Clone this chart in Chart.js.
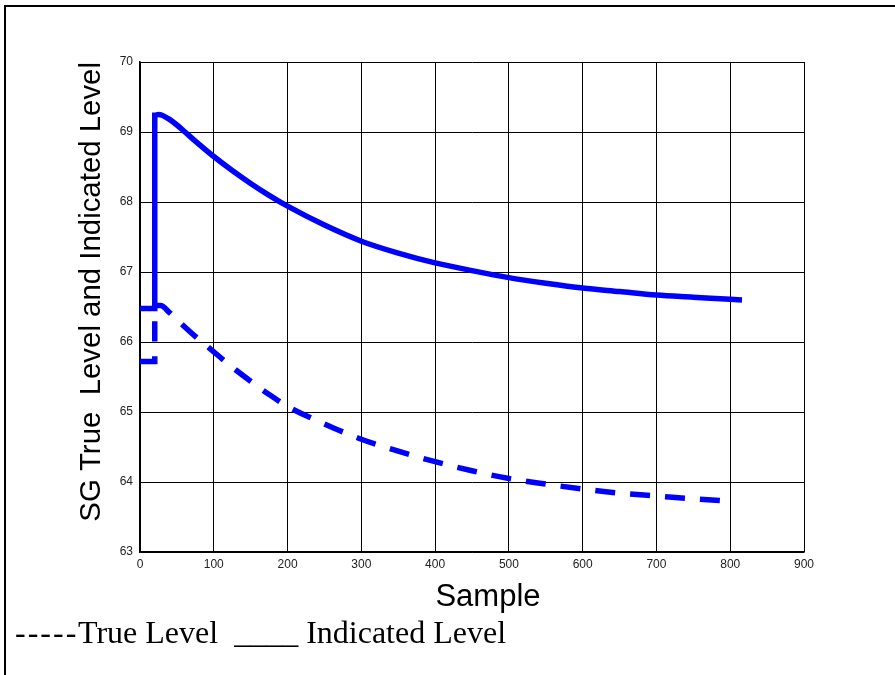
<!DOCTYPE html>
<html>
<head>
<meta charset="utf-8">
<script src="https://cdn.jsdelivr.net/npm/chart.js@4"></script>
<style>
  body { margin: 0; background: #fff; }
  #wrap { position: absolute; left: 0; top: 0; width: 895px; height: 675px; }
</style>
</head>
<body>
<div id="wrap"><canvas id="levelChart" width="895" height="675"></canvas></div>
<script>
// indicated level (solid line)
const indicatedX = [0, 20, 20, 25, 30, 40, 50, 60, 75, 100, 125, 150, 175, 200, 250, 300, 350, 400, 450, 500, 550, 600, 650, 700, 750, 800, 816];
const indicatedY = [66.48, 66.48, 69.24, 69.25, 69.24, 69.18, 69.10, 69.01, 68.87, 68.65, 68.45, 68.265, 68.095, 67.94, 67.67, 67.44, 67.27, 67.13, 67.02, 66.92, 66.84, 66.77, 66.72, 66.67, 66.64, 66.61, 66.60];

// true level (dashed line)
const trueX = [0, 20, 20, 28, 40, 50, 75, 100, 125, 150, 175, 200, 250, 300, 350, 400, 450, 500, 550, 600, 650, 700, 750, 796];
const trueY = [65.72, 65.72, 66.52, 66.52, 66.42, 66.32, 66.08, 65.86, 65.64, 65.44, 65.25, 65.08, 64.83, 64.61, 64.44, 64.29, 64.16, 64.05, 63.97, 63.90, 63.84, 63.80, 63.76, 63.73];

const xTicks = [0, 100, 200, 300, 400, 500, 600, 700, 800, 900];
const yTicks = [63, 64, 65, 66, 67, 68, 69, 70];

const yTitle = "SG True  Level and Indicated Level";
const xTitle = "Sample";
const captionDashes = "-----";
const captionText = "True Level  ____ Indicated Level";

const toPoints = (xs, ys) => xs.map((x, i) => ({ x: x, y: ys[i] }));

// page frame, x title and caption under the chart
const framePlugin = {
    id: "frame",
    afterDraw(chart) {
        const ctx = chart.ctx;
        ctx.save();
        ctx.strokeStyle = "#000";
        ctx.lineWidth = 2;
        ctx.beginPath();
        ctx.moveTo(5, 675);
        ctx.lineTo(5, 6);
        ctx.lineTo(895, 6);
        ctx.stroke();

        ctx.fillStyle = "#000";
        ctx.textBaseline = "alphabetic";

        ctx.font = '31px "Liberation Sans"';
        ctx.textAlign = "center";
        ctx.fillText(xTitle, 488, 606);

        ctx.textAlign = "left";
        ctx.font = '32px "Liberation Serif"';
        ctx.letterSpacing = "2px";
        ctx.fillText(captionDashes, 15, 643);
        ctx.letterSpacing = "0px";
        ctx.fillText(captionText, 78, 643);
        ctx.restore();
    }
};

const ctx = document.getElementById("levelChart").getContext("2d");
new Chart(ctx, {
    type: "scatter",
    data: {
        datasets: [
            {
                label: "Indicated Level",
                data: toPoints(indicatedX, indicatedY),
                showLine: true,
                borderColor: "#0000ff",
                borderWidth: 5.5,
                pointRadius: 0,
                cubicInterpolationMode: "monotone"
            },
            {
                label: "True Level",
                data: toPoints(trueX, trueY),
                showLine: true,
                borderColor: "#0000ff",
                borderWidth: 5.5,
                borderDash: [20, 15],
                pointRadius: 0,
                cubicInterpolationMode: "monotone"
            }
        ]
    },
    options: {
        responsive: false,
        animation: false,
        layout: { padding: { left: 70, right: 91, top: 62, bottom: 62 } },
        plugins: {
            legend: { display: false },
            tooltip: { enabled: false }
        },
        scales: {
            x: {
                type: "linear",
                min: 0,
                max: 900,
                afterBuildTicks: (scale) => { scale.ticks = xTicks.map(v => ({ value: v })); },
                afterFit: (scale) => { scale.height = 61; },
                grid: { color: "#000", lineWidth: 1, drawTicks: false },
                border: { color: "#000", width: 1.5 },
                ticks: {
                    color: "#222",
                    padding: 5,
                    font: { family: "Liberation Sans", size: 12 }
                }
            },
            y: {
                min: 63,
                max: 70,
                afterBuildTicks: (scale) => { scale.ticks = yTicks.map(v => ({ value: v })); },
                afterFit: (scale) => { scale.width = 70; },
                grid: { color: "#000", lineWidth: 1, drawTicks: false },
                border: { color: "#000", width: 1.5 },
                ticks: {
                    color: "#222",
                    padding: 7,
                    font: { family: "Liberation Sans", size: 12 }
                },
                title: {
                    display: true,
                    text: yTitle,
                    color: "#000",
                    align: "end",
                    padding: { top: 4, bottom: 0 },
                    font: { family: "Liberation Sans", size: 29.4 }
                }
            }
        }
    },
    plugins: [framePlugin]
});
</script>
</body>
</html>
